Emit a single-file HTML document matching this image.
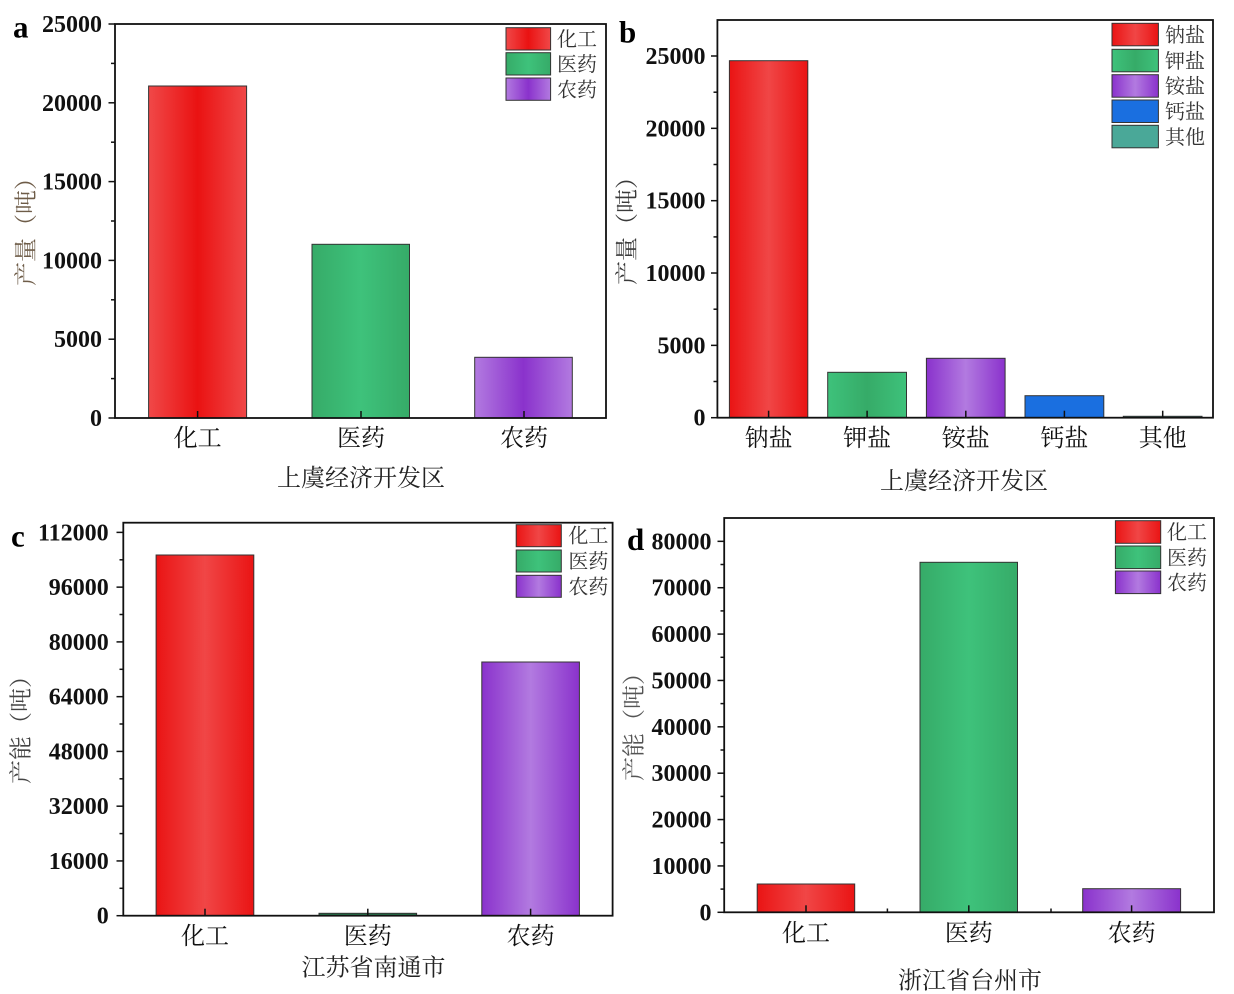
<!DOCTYPE html>
<html><head><meta charset="utf-8"><style>
html,body{margin:0;padding:0;background:#fff;}
svg{display:block;}
.tl{font-family:"Liberation Serif",serif;font-weight:bold;font-size:24px;fill:#111;text-anchor:end;}
.cj{font-family:"Liberation Serif","Noto Serif CJK SC",serif;}
.xt{font-size:24px;fill:#111;text-anchor:middle;}
.xa{font-size:24px;fill:#222;text-anchor:middle;}
.lg{font-size:20px;fill:#333;}
.yl{font-size:23px;text-anchor:middle;dominant-baseline:central;}
.pl{font-family:"Liberation Serif",serif;font-weight:bold;font-size:31px;fill:#000;}
.ax{fill:none;stroke:#111;stroke-width:1.8;}
.tk{stroke:#111;stroke-width:1.5;}
.bar{stroke:#333;stroke-width:1;}
</style></head><body>
<svg width="1234" height="994" viewBox="0 0 1234 994" xmlns="http://www.w3.org/2000/svg">
<defs>
<linearGradient id="rL" x1="0" x2="1" y1="0" y2="0"><stop offset="0" stop-color="#f04848"/><stop offset="0.5" stop-color="#ea1212"/><stop offset="1" stop-color="#f04848"/></linearGradient>
<linearGradient id="rD" x1="0" x2="1" y1="0" y2="0"><stop offset="0" stop-color="#ea1414"/><stop offset="0.5" stop-color="#f04646"/><stop offset="1" stop-color="#ea1414"/></linearGradient>
<linearGradient id="gL" x1="0" x2="1" y1="0" y2="0"><stop offset="0" stop-color="#36ab68"/><stop offset="0.5" stop-color="#3ec27b"/><stop offset="1" stop-color="#36ab68"/></linearGradient>
<linearGradient id="gD" x1="0" x2="1" y1="0" y2="0"><stop offset="0" stop-color="#3ec27b"/><stop offset="0.5" stop-color="#36ab68"/><stop offset="1" stop-color="#3ec27b"/></linearGradient>
<linearGradient id="pD" x1="0" x2="1" y1="0" y2="0"><stop offset="0" stop-color="#b27ae0"/><stop offset="0.5" stop-color="#8a32cc"/><stop offset="1" stop-color="#b27ae0"/></linearGradient>
<linearGradient id="pL" x1="0" x2="1" y1="0" y2="0"><stop offset="0" stop-color="#8a32cc"/><stop offset="0.5" stop-color="#b27ae0"/><stop offset="1" stop-color="#8a32cc"/></linearGradient>
</defs>

<!-- ================= Panel a ================= -->
<rect x="148.6" y="86" width="98" height="332" fill="url(#rL)" class="bar"/>
<rect x="312" y="244.3" width="97.5" height="173.7" fill="url(#gL)" class="bar"/>
<rect x="474.7" y="357.3" width="97.6" height="60.7" fill="url(#pD)" class="bar"/>
<rect x="115" y="24" width="491" height="394" class="ax"/>
<g class="tk">
<line x1="108.5" y1="418" x2="115" y2="418"/><line x1="108.5" y1="339.2" x2="115" y2="339.2"/><line x1="108.5" y1="260.4" x2="115" y2="260.4"/><line x1="108.5" y1="181.6" x2="115" y2="181.6"/><line x1="108.5" y1="102.8" x2="115" y2="102.8"/><line x1="108.5" y1="24" x2="115" y2="24"/>
<line x1="111" y1="378.6" x2="115" y2="378.6"/><line x1="111" y1="299.8" x2="115" y2="299.8"/><line x1="111" y1="221" x2="115" y2="221"/><line x1="111" y1="142.2" x2="115" y2="142.2"/><line x1="111" y1="63.4" x2="115" y2="63.4"/>
<line x1="197.6" y1="418" x2="197.6" y2="411"/><line x1="361" y1="418" x2="361" y2="411"/><line x1="524" y1="418" x2="524" y2="411"/>
</g>
<text class="tl" x="102" y="426">0</text>
<text class="tl" x="102" y="347.2">5000</text>
<text class="tl" x="102" y="268.4">10000</text>
<text class="tl" x="102" y="189.6">15000</text>
<text class="tl" x="102" y="110.8">20000</text>
<text class="tl" x="102" y="32">25000</text>
<text class="cj xt" x="197.6" y="446">化工</text>
<text class="cj xt" x="361" y="446">医药</text>
<text class="cj xt" x="524" y="446">农药</text>
<text class="cj xa" x="361" y="486">上虞经济开发区</text>
<text class="cj yl" fill="#6e5c48" transform="translate(26,226) rotate(-90)" textLength="120" lengthAdjust="spacingAndGlyphs">产量（吨）</text>
<text class="pl" x="13" y="37.5">a</text>
<rect x="506" y="27.7" width="44.6" height="22.3" fill="url(#rL)" class="bar"/>
<rect x="506" y="52.7" width="44.6" height="22.3" fill="url(#gL)" class="bar"/>
<rect x="506" y="78" width="44.6" height="22.3" fill="url(#pD)" class="bar"/>
<text class="cj lg" x="557" y="46">化工</text>
<text class="cj lg" x="557" y="71">医药</text>
<text class="cj lg" x="557" y="96.3">农药</text>

<!-- ================= Panel b ================= -->
<rect x="729.4" y="60.7" width="78.4" height="357" fill="url(#rD)" class="bar"/>
<rect x="827.7" y="372.3" width="78.8" height="45.4" fill="url(#gD)" class="bar"/>
<rect x="926.4" y="358.3" width="78.7" height="59.4" fill="url(#pL)" class="bar"/>
<rect x="1025" y="395.7" width="78.8" height="22" fill="#1a6fe0" class="bar"/>
<rect x="1123.3" y="416.3" width="78.7" height="1.4" fill="#4aa898" class="bar"/>
<rect x="717.4" y="20" width="495.6" height="397.7" class="ax"/>
<g class="tk">
<line x1="711" y1="417.7" x2="717.4" y2="417.7"/><line x1="711" y1="345.36" x2="717.4" y2="345.36"/><line x1="711" y1="273.02" x2="717.4" y2="273.02"/><line x1="711" y1="200.68" x2="717.4" y2="200.68"/><line x1="711" y1="128.34" x2="717.4" y2="128.34"/><line x1="711" y1="56" x2="717.4" y2="56"/>
<line x1="713.5" y1="381.5" x2="717.4" y2="381.5"/><line x1="713.5" y1="309.2" x2="717.4" y2="309.2"/><line x1="713.5" y1="236.9" x2="717.4" y2="236.9"/><line x1="713.5" y1="164.5" x2="717.4" y2="164.5"/><line x1="713.5" y1="92.2" x2="717.4" y2="92.2"/>
<line x1="768.6" y1="417.7" x2="768.6" y2="410.7"/><line x1="867.1" y1="417.7" x2="867.1" y2="410.7"/><line x1="965.8" y1="417.7" x2="965.8" y2="410.7"/><line x1="1064.4" y1="417.7" x2="1064.4" y2="410.7"/><line x1="1162.7" y1="417.7" x2="1162.7" y2="410.7"/>
</g>
<text class="tl" x="705.5" y="425.7">0</text>
<text class="tl" x="705.5" y="353.4">5000</text>
<text class="tl" x="705.5" y="281">10000</text>
<text class="tl" x="705.5" y="208.7">15000</text>
<text class="tl" x="705.5" y="136.3">20000</text>
<text class="tl" x="705.5" y="64">25000</text>
<text class="cj xt" x="768.6" y="446">钠盐</text>
<text class="cj xt" x="867.1" y="446">钾盐</text>
<text class="cj xt" x="965.8" y="446">铵盐</text>
<text class="cj xt" x="1064.4" y="446">钙盐</text>
<text class="cj xt" x="1162.7" y="446">其他</text>
<text class="cj xa" x="964" y="489">上虞经济开发区</text>
<text class="cj yl" fill="#3a3a3a" transform="translate(627,225) rotate(-90)" textLength="120" lengthAdjust="spacingAndGlyphs">产量（吨）</text>
<text class="pl" x="619" y="42.5">b</text>
<rect x="1112" y="23.3" width="46.4" height="22.5" fill="url(#rD)" class="bar"/>
<rect x="1112" y="49.3" width="46.4" height="22.5" fill="url(#gD)" class="bar"/>
<rect x="1112" y="74.7" width="46.4" height="22.5" fill="url(#pL)" class="bar"/>
<rect x="1112" y="100" width="46.4" height="22.5" fill="#1a6fe0" class="bar"/>
<rect x="1112" y="125.3" width="46.4" height="22.5" fill="#4aa898" class="bar"/>
<text class="cj lg" x="1165" y="41.8">钠盐</text>
<text class="cj lg" x="1165" y="67.8">钾盐</text>
<text class="cj lg" x="1165" y="93.2">铵盐</text>
<text class="cj lg" x="1165" y="118.5">钙盐</text>
<text class="cj lg" x="1165" y="143.8">其他</text>

<!-- ================= Panel c ================= -->
<rect x="156.1" y="555" width="97.7" height="360.7" fill="url(#rD)" class="bar"/>
<rect x="319" y="913.3" width="97.6" height="2.4" fill="#2a7a4f" class="bar"/>
<rect x="481.8" y="662" width="97.6" height="253.7" fill="url(#pL)" class="bar"/>
<rect x="123.3" y="522.7" width="489.3" height="393" class="ax"/>
<g class="tk">
<line x1="116.5" y1="915.7" x2="123.3" y2="915.7"/><line x1="116.5" y1="860.94" x2="123.3" y2="860.94"/><line x1="116.5" y1="806.18" x2="123.3" y2="806.18"/><line x1="116.5" y1="751.42" x2="123.3" y2="751.42"/><line x1="116.5" y1="696.66" x2="123.3" y2="696.66"/><line x1="116.5" y1="641.9" x2="123.3" y2="641.9"/><line x1="116.5" y1="587.14" x2="123.3" y2="587.14"/><line x1="116.5" y1="532.38" x2="123.3" y2="532.38"/>
<line x1="119.5" y1="888.3" x2="123.3" y2="888.3"/><line x1="119.5" y1="833.6" x2="123.3" y2="833.6"/><line x1="119.5" y1="778.8" x2="123.3" y2="778.8"/><line x1="119.5" y1="724" x2="123.3" y2="724"/><line x1="119.5" y1="669.3" x2="123.3" y2="669.3"/><line x1="119.5" y1="614.5" x2="123.3" y2="614.5"/><line x1="119.5" y1="559.8" x2="123.3" y2="559.8"/>
<line x1="205" y1="915.7" x2="205" y2="908.7"/><line x1="367.8" y1="915.7" x2="367.8" y2="908.7"/><line x1="530.6" y1="915.7" x2="530.6" y2="908.7"/>
</g>
<text class="tl" x="108.7" y="923.7">0</text>
<text class="tl" x="108.7" y="868.9">16000</text>
<text class="tl" x="108.7" y="814.2">32000</text>
<text class="tl" x="108.7" y="759.4">48000</text>
<text class="tl" x="108.7" y="704.7">64000</text>
<text class="tl" x="108.7" y="649.9">80000</text>
<text class="tl" x="108.7" y="595.1">96000</text>
<text class="tl" x="108.7" y="540.4">112000</text>
<text class="cj xt" x="205" y="944">化工</text>
<text class="cj xt" x="367.8" y="944">医药</text>
<text class="cj xt" x="530.6" y="944">农药</text>
<text class="cj xa" x="373.5" y="975.5">江苏省南通市</text>
<text class="cj yl" fill="#444" transform="translate(21,724) rotate(-90)" textLength="120" lengthAdjust="spacingAndGlyphs">产能（吨）</text>
<text class="pl" x="11" y="546.7">c</text>
<rect x="516.2" y="524.7" width="45.1" height="22" fill="url(#rD)" class="bar"/>
<rect x="516.2" y="550" width="45.1" height="22" fill="url(#gL)" class="bar"/>
<rect x="516.2" y="575.3" width="45.1" height="22" fill="url(#pL)" class="bar"/>
<text class="cj lg" x="568.4" y="542.7">化工</text>
<text class="cj lg" x="568.4" y="568">医药</text>
<text class="cj lg" x="568.4" y="593.3">农药</text>

<!-- ================= Panel d ================= -->
<rect x="757.2" y="884" width="97.5" height="28.3" fill="url(#rD)" class="bar"/>
<rect x="920" y="562.3" width="97.5" height="350" fill="url(#gL)" class="bar"/>
<rect x="1082.7" y="888.7" width="97.9" height="23.6" fill="url(#pL)" class="bar"/>
<rect x="724.2" y="518" width="489.8" height="394.3" class="ax"/>
<g class="tk">
<line x1="717.5" y1="912.3" x2="724.2" y2="912.3"/><line x1="717.5" y1="865.93" x2="724.2" y2="865.93"/><line x1="717.5" y1="819.56" x2="724.2" y2="819.56"/><line x1="717.5" y1="773.19" x2="724.2" y2="773.19"/><line x1="717.5" y1="726.82" x2="724.2" y2="726.82"/><line x1="717.5" y1="680.45" x2="724.2" y2="680.45"/><line x1="717.5" y1="634.08" x2="724.2" y2="634.08"/><line x1="717.5" y1="587.71" x2="724.2" y2="587.71"/><line x1="717.5" y1="541.34" x2="724.2" y2="541.34"/>
<line x1="720.5" y1="889.1" x2="724.2" y2="889.1"/><line x1="720.5" y1="842.7" x2="724.2" y2="842.7"/><line x1="720.5" y1="796.4" x2="724.2" y2="796.4"/><line x1="720.5" y1="750" x2="724.2" y2="750"/><line x1="720.5" y1="703.6" x2="724.2" y2="703.6"/><line x1="720.5" y1="657.3" x2="724.2" y2="657.3"/><line x1="720.5" y1="610.9" x2="724.2" y2="610.9"/><line x1="720.5" y1="564.5" x2="724.2" y2="564.5"/>
<line x1="806" y1="912.3" x2="806" y2="905.3"/><line x1="968.8" y1="912.3" x2="968.8" y2="905.3"/><line x1="1131.6" y1="912.3" x2="1131.6" y2="905.3"/>
<line x1="887.4" y1="912.3" x2="887.4" y2="908.5"/><line x1="1051" y1="912.3" x2="1051" y2="908.5"/>
</g>
<text class="tl" x="711.5" y="920.3">0</text>
<text class="tl" x="711.5" y="873.9">10000</text>
<text class="tl" x="711.5" y="827.6">20000</text>
<text class="tl" x="711.5" y="781.2">30000</text>
<text class="tl" x="711.5" y="734.8">40000</text>
<text class="tl" x="711.5" y="688.5">50000</text>
<text class="tl" x="711.5" y="642.1">60000</text>
<text class="tl" x="711.5" y="595.7">70000</text>
<text class="tl" x="711.5" y="549.3">80000</text>
<text class="cj xt" x="806" y="941">化工</text>
<text class="cj xt" x="968.8" y="941">医药</text>
<text class="cj xt" x="1131.6" y="941">农药</text>
<text class="cj xa" x="970" y="988.5">浙江省台州市</text>
<text class="cj yl" fill="#555" transform="translate(634,721) rotate(-90)" textLength="120" lengthAdjust="spacingAndGlyphs">产能（吨）</text>
<text class="pl" x="627" y="550">d</text>
<rect x="1115.4" y="520.7" width="45.3" height="22.6" fill="url(#rD)" class="bar"/>
<rect x="1115.4" y="546" width="45.3" height="22.6" fill="url(#gL)" class="bar"/>
<rect x="1115.4" y="571" width="45.3" height="22.6" fill="url(#pL)" class="bar"/>
<text class="cj lg" x="1167" y="539">化工</text>
<text class="cj lg" x="1167" y="564.3">医药</text>
<text class="cj lg" x="1167" y="589.3">农药</text>
</svg>
</body></html>
